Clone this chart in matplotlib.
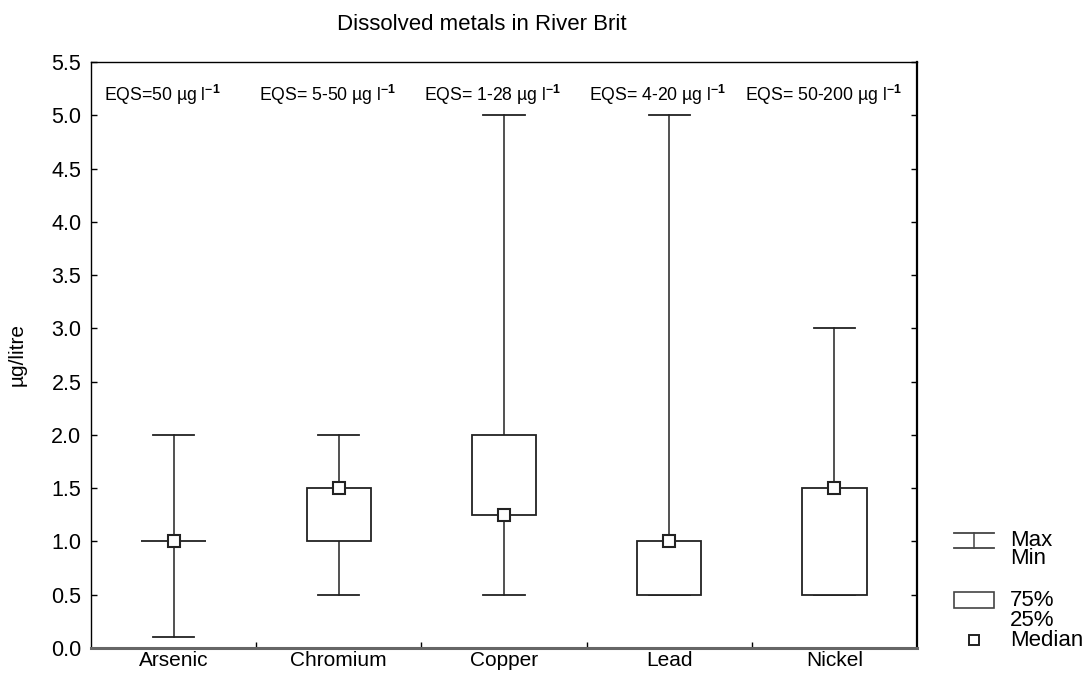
import matplotlib
matplotlib.use("Agg")
import matplotlib.pyplot as plt
from matplotlib.lines import Line2D
from matplotlib.patches import Rectangle

plt.rcParams['font.family'] = ['Liberation Sans', 'DejaVu Sans']
plt.rcParams['mathtext.fontset'] = 'custom'
plt.rcParams['mathtext.rm'] = 'Liberation Sans'
plt.rcParams['mathtext.bf'] = 'Liberation Sans:bold'

categories = ["Arsenic", "Chromium", "Copper", "Lead", "Nickel"]
mins = [0.1, 0.5, 0.5, 0.5, 0.5]
q25 = [1.0, 1.0, 1.25, 0.5, 0.5]
medians = [1.0, 1.5, 1.25, 1.0, 1.5]
q75 = [1.0, 1.5, 2.0, 1.0, 1.5]
maxs = [2.0, 2.0, 5.0, 5.0, 3.0]
eqs_labels = ["EQS=50 µg l", "EQS= 5-50 µg l", "EQS= 1-28 µg l",
              "EQS= 4-20 µg l", "EQS= 50-200 µg l"]
yticks = [0.0, 0.5, 1.0, 1.5, 2.0, 2.5, 3.0, 3.5, 4.0, 4.5, 5.0, 5.5]

fig = plt.figure(figsize=(10.86, 6.75), dpi=100)
ax = fig.add_axes([91/1086, 1-648/675, (917-91)/1086, (648-62)/675])

lc = '#222222'
box_w = 0.39
cap_w = 0.25
x = list(range(1, len(categories)+1))
for i, xi in enumerate(x):
    ax.plot([xi, xi], [q75[i], maxs[i]], color=lc, lw=1.1, zorder=2)
    ax.plot([xi, xi], [mins[i], q25[i]], color=lc, lw=1.1, zorder=2)
    ax.plot([xi-cap_w/2, xi+cap_w/2], [maxs[i], maxs[i]], color=lc, lw=1.3, zorder=2)
    ax.plot([xi-cap_w/2, xi+cap_w/2], [mins[i], mins[i]], color=lc, lw=1.3, zorder=2)
    ax.add_patch(Rectangle((xi-box_w/2, q25[i]), box_w, q75[i]-q25[i],
                           facecolor='white', edgecolor=lc, lw=1.3, zorder=3))
    ax.plot([xi], [medians[i]], marker='s', markersize=8, markerfacecolor='white',
            markeredgecolor=lc, markeredgewidth=1.5, zorder=4)
    ax.annotate(eqs_labels[i] + r"$^{\mathbf{-1}}$", xy=(xi, 5.19), xytext=(-8, 0),
                textcoords='offset points', ha='center', va='center', fontsize=12.7)

ax.set_xlim(0.5, len(categories)+0.5)
ax.set_ylim(0, 5.5)
ax.set_yticks(yticks)
ax.set_yticklabels([f"{v:.1f}" for v in yticks], fontsize=15.5)
ax.set_xticks(x)
ax.set_xticklabels(categories, fontsize=15)
ax.set_xticks([v + 0.5 for v in x[:-1]], minor=True)
ax.tick_params(axis='x', which='major', length=0, pad=2.5)
ax.tick_params(axis='x', which='minor', direction='in', length=4, width=1, color='black')
ax.tick_params(axis='y', which='both', direction='in', length=4, left=True, right=True,
               width=1, pad=7)

for s in ['left', 'top']:
    ax.spines[s].set_color('black')
    ax.spines[s].set_linewidth(1.0)
ax.spines['right'].set_color('black')
ax.spines['right'].set_linewidth(1.6)
ax.spines['bottom'].set_color('#666666')
ax.spines['bottom'].set_linewidth(2.2)

ax.set_ylabel("µg/litre", fontsize=15)
ax.yaxis.set_label_coords(-0.078, 0.5)
fig.text(482/1086, 1-25/675, "Dissolved metals in River Brit", ha='center', va='center',
         fontsize=16)

def fx(px):
    return px/1086
def fy(py):
    return 1 - py/675

lcol = '#444444'
fig.add_artist(Line2D([fx(954), fx(994)], [fy(533), fy(533)], color=lcol, lw=1.3))
fig.add_artist(Line2D([fx(954), fx(994)], [fy(548), fy(548)], color=lcol, lw=1.3))
fig.add_artist(Line2D([fx(974), fx(974)], [fy(533), fy(548)], color=lcol, lw=1.1))
fig.text(fx(1010), fy(540), "Max", fontsize=16, va='center')
fig.text(fx(1010), fy(559), "Min", fontsize=16, va='center')
fig.add_artist(Rectangle((fx(954), fy(608)), fx(994)-fx(954), fy(592)-fy(608),
                         facecolor='white', edgecolor=lcol, lw=1.2, transform=fig.transFigure))
fig.text(fx(1010), fy(600), "75%", fontsize=16, va='center')
fig.text(fx(1010), fy(620), "25%", fontsize=16, va='center')
fig.add_artist(Line2D([fx(974)], [fy(640)], marker='s', markersize=7,
                      markerfacecolor='white', markeredgecolor=lc, markeredgewidth=1.4))
fig.text(fx(1010), fy(640), "Median", fontsize=16, va='center')

fig.savefig("out.png", dpi=100)
